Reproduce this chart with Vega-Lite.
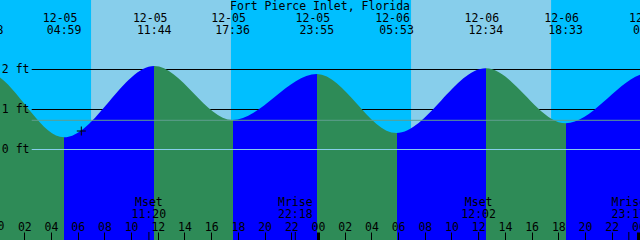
{
  "$schema": "https://vega.github.io/schema/vega-lite/v6.json",
  "width": 640,
  "height": 240,
  "padding": 0,
  "autosize": {"type": "none"},
  "config": {
    "view": {"fill": "#00BFFF", "stroke": null},
    "text": {"font": "DejaVu Sans Mono", "fontSize": 11.5, "color": "black", "baseline": "alphabetic", "align": "center"}
  },
  "resolve": {"axis": {"x": "independent", "y": "independent"}},
  "datasets": {
    "daylight": [
      {"sunrise": 7.0, "sunset": 17.48},
      {"sunrise": 30.97, "sunset": 41.46}
    ],
    "tides": [
      {"t": -7.2, "ft": 0.65},
      {"t": -0.867, "ft": 1.94, "date": "12-04", "time": "23:08"},
      {"t": 4.983, "ft": 0.305, "date": "12-05", "time": "04:59"},
      {"t": 11.733, "ft": 2.09, "date": "12-05", "time": "11:44"},
      {"t": 17.6, "ft": 0.74, "date": "12-05", "time": "17:36"},
      {"t": 23.917, "ft": 1.89, "date": "12-05", "time": "23:55"},
      {"t": 29.883, "ft": 0.41, "date": "12-06", "time": "05:53"},
      {"t": 36.567, "ft": 2.03, "date": "12-06", "time": "12:34"},
      {"t": 42.55, "ft": 0.655, "date": "12-06", "time": "18:33"},
      {"t": 48.9, "ft": 1.92, "date": "12-07", "time": "00:54"},
      {"t": 55.0, "ft": 0.7}
    ],
    "moon": [
      {"t": 11.333, "event": "Mset", "time": "11:20"},
      {"t": 22.3, "event": "Mrise", "time": "22:18"},
      {"t": 36.033, "event": "Mset", "time": "12:02"},
      {"t": 47.283, "event": "Mrise", "time": "23:17"}
    ],
    "gridlines": [{"ft": 1}, {"ft": 2}],
    "levels": [{"ft": 0.73, "kind": "mean"}, {"ft": 0, "kind": "datum"}],
    "now": [{"t": 6.27, "ft": 0.4625}],
    "title": [{"label": "Fort Pierce Inlet, Florida"}],
    "firsthour": [{"t": 0, "label": "00"}]
  },
  "layer": [
    {
      "data": {"name": "daylight"},
      "mark": {"type": "rect", "color": "#87CEEB"},
      "encoding": {
        "x": {"field": "sunrise", "type": "quantitative", "scale": {"domain": [0.18, 48.12], "nice": false, "zero": false}, "axis": null},
        "x2": {"field": "sunset"}
      }
    },
    {
      "data": {"name": "gridlines"},
      "mark": {"type": "rule", "color": "black", "strokeWidth": 1},
      "encoding": {
        "y": {"field": "ft", "type": "quantitative", "scale": {"domain": [-2.2625, 3.7375], "nice": false, "zero": false}, "axis": null},
        "x": {"datum": 2.555, "type": "quantitative", "scale": {"domain": [0.18, 48.12], "nice": false, "zero": false}, "axis": null},
        "x2": {"datum": 48.12}
      }
    },
    {
      "data": {"name": "tides"},
      "mark": {
        "type": "area",
        "interpolate": "monotone",
        "clip": true,
        "color": {
          "gradient": "linear",
          "x1": 0, "y1": 0, "x2": 1, "y2": 0,
          "stops": [
            {"offset": 0, "color": "#0000FF"},
            {"offset": 0.10182, "color": "#0000FF"},
            {"offset": 0.10182, "color": "#2E8B57"},
            {"offset": 0.19587, "color": "#2E8B57"},
            {"offset": 0.19587, "color": "#0000FF"},
            {"offset": 0.30439, "color": "#0000FF"},
            {"offset": 0.30439, "color": "#2E8B57"},
            {"offset": 0.39871, "color": "#2E8B57"},
            {"offset": 0.39871, "color": "#0000FF"},
            {"offset": 0.50027, "color": "#0000FF"},
            {"offset": 0.50027, "color": "#2E8B57"},
            {"offset": 0.59619, "color": "#2E8B57"},
            {"offset": 0.59619, "color": "#0000FF"},
            {"offset": 0.70365, "color": "#0000FF"},
            {"offset": 0.70365, "color": "#2E8B57"},
            {"offset": 0.79984, "color": "#2E8B57"},
            {"offset": 0.79984, "color": "#0000FF"},
            {"offset": 0.90193, "color": "#0000FF"},
            {"offset": 0.90193, "color": "#2E8B57"},
            {"offset": 1, "color": "#2E8B57"}
          ]
        }
      },
      "encoding": {
        "x": {
          "field": "t", "type": "quantitative",
          "scale": {"domain": [0.18, 48.12], "nice": false, "zero": false},
          "axis": {
            "orient": "top", "offset": -240, "title": null,
            "values": [0, 2, 4, 6, 8, 10, 12, 14, 16, 18, 20, 22, 24, 26, 28, 30, 32, 34, 36, 38, 40, 42, 44, 46, 48],
            "labelExpr": "(datum.value % 24 < 10 ? '0' : '') + (datum.value % 24)",
            "domain": false, "grid": false,
            "tickSize": 8, "tickColor": "black",
            "tickWidth": {"condition": {"test": "datum.value % 24 === 0", "value": 3}, "value": 1},
            "labelFont": "DejaVu Sans Mono", "labelFontSize": 11.5, "labelColor": "black",
            "labelPadding": 2, "labelBaseline": "alphabetic",
            "labelFlush": false, "labelOverlap": false, "labelBound": false, "zindex": 1
          }
        },
        "y": {
          "field": "ft", "type": "quantitative",
          "scale": {"domain": [-2.2625, 3.7375], "nice": false, "zero": false},
          "axis": {
            "orient": "left", "offset": -29, "title": null,
            "values": [0, 1, 2],
            "labelExpr": "datum.value + ' ft'",
            "domain": false, "grid": false, "ticks": false, "tickSize": 0,
            "labelPadding": 0, "labelAlign": "right", "labelBaseline": "middle",
            "labelFont": "DejaVu Sans Mono", "labelFontSize": 11.5, "labelColor": "black",
            "labelFlush": false, "labelOverlap": false, "labelBound": false, "zindex": 1
          }
        },
        "y2": {"datum": -2.2625}
      }
    },
    {
      "data": {"name": "levels"},
      "mark": {"type": "rule", "strokeWidth": 1},
      "encoding": {
        "y": {"field": "ft", "type": "quantitative", "scale": {"domain": [-2.2625, 3.7375], "nice": false, "zero": false}, "axis": null},
        "x": {"datum": 2.555, "type": "quantitative", "scale": {"domain": [0.18, 48.12], "nice": false, "zero": false}, "axis": null},
        "x2": {"datum": 48.12},
        "color": {"field": "kind", "type": "nominal", "scale": {"domain": ["mean", "datum"], "range": ["#5F9E8F", "#87CEEB"]}, "legend": null}
      }
    },
    {
      "data": {"name": "now"},
      "mark": {"type": "point", "shape": "M-1,0L1,0M0,-1L0,1", "size": 81, "stroke": "black", "strokeWidth": 1, "filled": false, "opacity": 1},
      "encoding": {
        "x": {"field": "t", "type": "quantitative", "scale": {"domain": [0.18, 48.12], "nice": false, "zero": false}, "axis": null},
        "y": {"field": "ft", "type": "quantitative", "scale": {"domain": [-2.2625, 3.7375], "nice": false, "zero": false}, "axis": null}
      }
    },
    {
      "data": {"name": "tides"},
      "transform": [{"filter": "isValid(datum.date)"}],
      "mark": {"type": "text", "dx": -4},
      "encoding": {
        "x": {"field": "t", "type": "quantitative", "scale": {"domain": [0.18, 48.12], "nice": false, "zero": false}, "axis": null},
        "y": {"datum": 3.195, "type": "quantitative", "scale": {"domain": [-2.2625, 3.7375], "nice": false, "zero": false}, "axis": null},
        "text": {"field": "date"}
      }
    },
    {
      "data": {"name": "tides"},
      "transform": [{"filter": "isValid(datum.time)"}],
      "mark": {"type": "text"},
      "encoding": {
        "x": {"field": "t", "type": "quantitative", "scale": {"domain": [0.18, 48.12], "nice": false, "zero": false}, "axis": null},
        "y": {"datum": 2.8875, "type": "quantitative", "scale": {"domain": [-2.2625, 3.7375], "nice": false, "zero": false}, "axis": null},
        "text": {"field": "time"}
      }
    },
    {
      "data": {"name": "moon"},
      "mark": {"type": "text"},
      "encoding": {
        "x": {"field": "t", "type": "quantitative", "scale": {"domain": [0.18, 48.12], "nice": false, "zero": false}, "axis": null},
        "y": {"datum": -1.4125, "type": "quantitative", "scale": {"domain": [-2.2625, 3.7375], "nice": false, "zero": false}, "axis": null},
        "text": {"field": "event"}
      }
    },
    {
      "data": {"name": "moon"},
      "mark": {"type": "text"},
      "encoding": {
        "x": {"field": "t", "type": "quantitative", "scale": {"domain": [0.18, 48.12], "nice": false, "zero": false}, "axis": null},
        "y": {"datum": -1.705, "type": "quantitative", "scale": {"domain": [-2.2625, 3.7375], "nice": false, "zero": false}, "axis": null},
        "text": {"field": "time"}
      }
    },
    {
      "data": {"name": "moon"},
      "mark": {"type": "rule", "color": "black", "strokeWidth": 1},
      "encoding": {
        "x": {"field": "t", "type": "quantitative", "scale": {"domain": [0.18, 48.12], "nice": false, "zero": false}, "axis": null},
        "y": {"datum": -2.0625, "type": "quantitative", "scale": {"domain": [-2.2625, 3.7375], "nice": false, "zero": false}, "axis": null},
        "y2": {"datum": -2.2625}
      }
    },
    {
      "data": {"name": "firsthour"},
      "mark": {"type": "text"},
      "encoding": {
        "x": {"field": "t", "type": "quantitative", "scale": {"domain": [0.18, 48.12], "nice": false, "zero": false}, "axis": null},
        "y": {"datum": -2.0125, "type": "quantitative", "scale": {"domain": [-2.2625, 3.7375], "nice": false, "zero": false}, "axis": null},
        "text": {"field": "label"}
      }
    },
    {
      "data": {"name": "firsthour"},
      "mark": {"type": "rule", "color": "black", "strokeWidth": 3},
      "encoding": {
        "x": {"field": "t", "type": "quantitative", "scale": {"domain": [0.18, 48.12], "nice": false, "zero": false}, "axis": null},
        "y": {"datum": -2.0625, "type": "quantitative", "scale": {"domain": [-2.2625, 3.7375], "nice": false, "zero": false}, "axis": null},
        "y2": {"datum": -2.2625}
      }
    },
    {
      "data": {"name": "title"},
      "mark": {"type": "text"},
      "encoding": {
        "x": {"datum": 24.15, "type": "quantitative", "scale": {"domain": [0.18, 48.12], "nice": false, "zero": false}, "axis": null},
        "y": {"datum": 3.5, "type": "quantitative", "scale": {"domain": [-2.2625, 3.7375], "nice": false, "zero": false}, "axis": null},
        "text": {"field": "label"}
      }
    }
  ]
}
